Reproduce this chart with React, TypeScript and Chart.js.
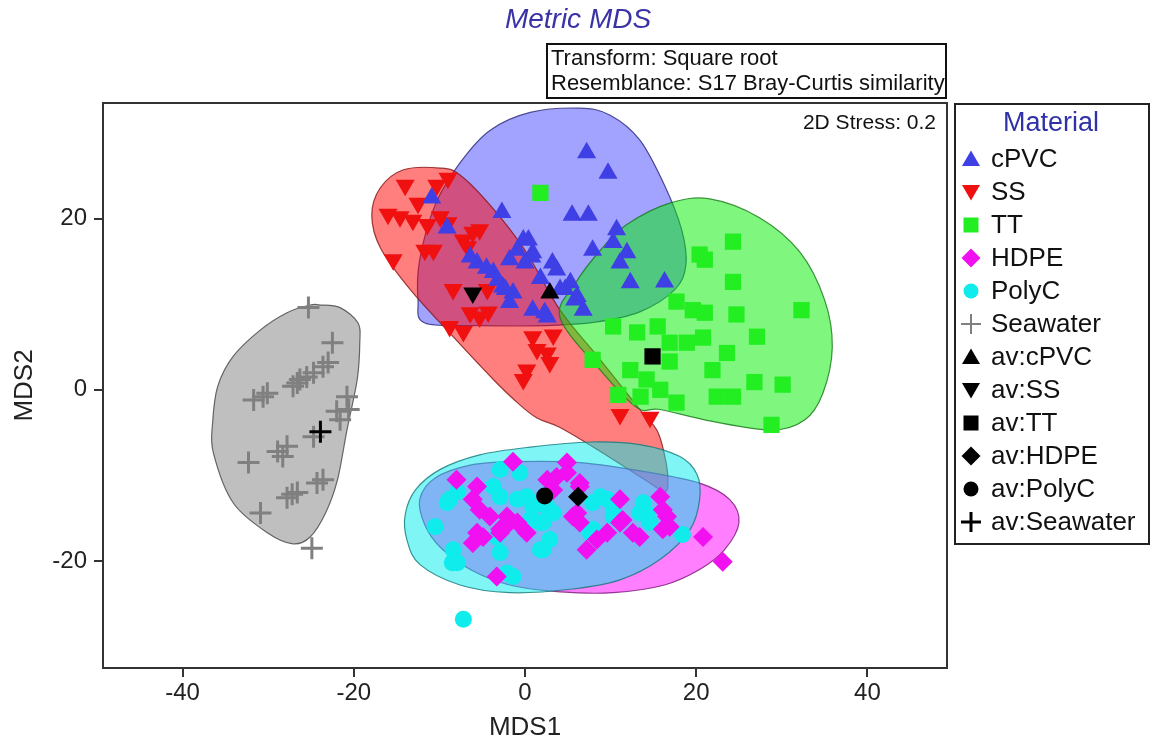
import React, { useEffect, useRef } from "react";
import { Chart, registerables } from "chart.js";

Chart.register(...registerables);

const FONT = "'Liberation Sans', Arial, Helvetica, sans-serif";

// ---- axis setup ----
const xTicks = [-40, -20, 0, 20, 40];
const yTicks = [-20, 0, 20];
const xRange = [-49.3, 49.3];
const yRange = [-32.5, 33.5];

// ---- sample points (MDS1, MDS2) ----
const cPVC: number[][] = [
  [7.2, 27.7], [9.7, 25.3], [-2.7, 20.7], [5.5, 20.4], [7.4, 20.4], [10.7, 18.7],
  [10.3, 17.2], [7.9, 16.3], [11.9, 16.0], [11.1, 14.8], [-0.2, 17.5], [-0.9, 16.3],
  [0.9, 16.0], [-1.8, 15.2], [-5.6, 14.8], [-6.4, 15.5], [-3.7, 13.7], [-2.6, 12.0],
  [-1.4, 11.3], [-1.8, 10.2], [3.7, 14.0], [5.3, 12.5], [4.1, 11.7], [6.1, 10.9],
  [6.8, 9.3], [0.9, 9.3], [2.6, 8.5], [12.3, 12.5], [16.3, 12.6], [-10.9, 22.4],
  [-9.1, 18.9], [-4.5, 14.2], [1.8, 13.0], [0.4, 17.5], [0.8, 15.5], [0.0, 14.8],
  [-3.2, 12.8], [-2.3, 11.7], [2.3, 9.0], [3.2, 14.8], [4.7, 11.7], [5.8, 10.5],
];
const SS: number[][] = [
  [-14.0, 23.9], [-10.3, 23.9], [-9.0, 24.7], [-14.6, 20.2], [-13.1, 19.8], [-11.4, 19.3],
  [-9.9, 20.2], [-11.7, 16.3], [-10.7, 16.3], [-15.4, 15.2], [-7.2, 17.5], [-6.1, 18.4],
  [-5.3, 18.7], [-8.4, 11.7], [-4.4, 11.7], [-6.4, 9.0], [-5.3, 8.5], [-8.8, 7.4],
  [-7.2, 6.8], [0.9, 6.2], [3.3, 6.4], [1.4, 4.7], [2.6, 4.3], [2.9, 3.2], [0.2, 2.3],
  [-0.2, 1.2], [11.1, -2.9], [14.6, -3.2], [-12.5, 21.8], [-16.0, 20.5], [-9.0, 19.5],
  [-6.7, 16.7], [-4.3, 9.1],
];
const TT: number[][] = [
  [1.8, 23.0], [24.3, 17.3], [21.0, 15.2], [20.4, 15.8], [24.3, 12.6], [32.3, 9.3],
  [17.7, 10.3], [19.6, 9.3], [21.0, 9.0], [24.7, 8.8], [10.3, 7.4], [13.1, 6.7],
  [15.5, 7.4], [16.9, 5.5], [18.9, 5.5], [20.8, 6.1], [23.6, 4.3], [27.1, 6.2],
  [21.9, 2.3], [12.3, 2.3], [7.9, 3.5], [16.9, 3.3], [14.2, 1.2], [15.8, 0.0],
  [17.7, -1.5], [22.4, -0.8], [24.3, -0.8], [26.8, 0.9], [30.1, 0.6], [28.8, -4.1],
  [10.9, -0.6], [13.5, -0.8],
];
const HDPE: number[][] = [
  [-1.4, -8.4], [4.9, -8.5], [4.9, -9.7], [3.7, -10.2], [6.4, -10.9], [-5.6, -11.3],
  [-6.1, -12.8], [-5.3, -14.0], [-4.1, -14.8], [-2.1, -14.8], [-0.9, -15.5], [-5.6, -16.7],
  [-2.9, -16.7], [-6.1, -17.9], [6.1, -14.4], [6.4, -15.5], [7.2, -18.7], [8.4, -17.5],
  [9.6, -16.7], [11.1, -12.8], [11.4, -15.2], [12.6, -16.7], [15.8, -12.5], [16.6, -14.8],
  [16.1, -16.3], [20.8, -17.2], [23.1, -20.1], [-3.3, -21.8], [3.3, -11.7], [-8.0, -10.5],
  [6.4, -11.3], [-4.9, -17.2], [-2.9, -16.3], [-1.8, -15.5], [0.2, -16.7], [5.6, -14.8],
  [11.1, -15.5], [13.4, -17.2], [16.1, -14.0], [16.9, -16.0], [2.6, -10.5],
];
const PolyC: number[][] = [
  [-9.1, -13.2], [-7.9, -11.9], [-3.7, -11.3], [-0.6, -9.7], [0.2, -12.5], [3.3, -14.4],
  [1.8, -15.5], [0.6, -15.2], [2.6, -13.7], [7.9, -13.2], [9.6, -12.8], [10.3, -14.0],
  [7.6, -16.7], [13.8, -13.2], [14.2, -14.4], [18.4, -16.9], [-8.4, -18.7], [-8.5, -20.2],
  [-2.9, -19.0], [-1.4, -21.8], [2.1, -18.7], [-7.2, -26.8], [-3.3, -17.2], [-10.5, -16.0],
  [-8.8, -12.8], [-7.9, -20.2], [-2.9, -12.5], [-0.9, -12.8], [0.9, -13.7], [2.1, -15.5],
  [1.8, -18.7], [2.9, -17.5], [-2.9, -9.3], [8.8, -12.5], [7.9, -16.3], [10.3, -14.8],
  [13.4, -14.4], [14.6, -15.5], [-2.1, -21.4],
];
const Seawater: number[][] = [
  [-25.3, 9.6], [-22.5, 5.5], [-23.6, 2.7], [-23.0, 3.2], [-24.7, 2.0], [-26.3, 1.2],
  [-27.1, 0.4], [-26.6, 0.8], [-30.6, -0.8], [-31.7, -1.2], [-30.1, -0.4], [-20.8, -0.8],
  [-20.6, -2.3], [-21.6, -3.5], [-24.7, -5.5], [-27.8, -6.6], [-28.9, -7.2], [-28.3, -7.8],
  [-32.3, -8.5], [-23.6, -10.5], [-24.3, -10.9], [-26.6, -12.0], [-27.8, -12.6],
  [-27.2, -12.2], [-30.9, -14.4], [-24.9, -18.5], [-22.0, -2.5], [-25.5, 1.5],
];

// ---- group averages ----
const avCPVC = [[2.9, 11.3]];
const avSS = [[-6.1, 11.3]];
const avTT = [[14.9, 3.9]];
const avHDPE = [[6.2, -12.5]];
const avPolyC = [[2.3, -12.4]];
const avSeawater = [[-23.9, -4.9]];

// ---- cluster outlines (smoothed hull vertices) ----
const hullCPVC = [
  [-7.6, 26.5], [-4.1, 30.3], [0.6, 32.4], [6.4, 32.9], [9.9, 32.1], [13.4, 29.2],
  [16.3, 23.9], [18.3, 18.7], [18.8, 14.6], [17.5, 11.7], [13.4, 9.1], [8.2, 7.9],
  [2.6, 7.5], [-5.3, 7.5], [-11.7, 7.8], [-12.5, 10.5], [-12.3, 15.2], [-10.5, 21.6],
];
const hullSS = [
  [-14.2, 25.7], [-9.9, 25.9], [-7.6, 25.1], [-4.1, 21.6], [0.0, 16.3], [4.1, 9.3],
  [8.8, 3.5], [13.4, -2.3], [15.4, -4.7], [16.3, -7.6], [16.7, -10.5], [16.3, -11.9],
  [14.0, -10.5], [8.8, -7.2], [4.1, -4.4], [1.4, -3.3], [-0.9, -1.5], [-3.7, 1.2],
  [-8.4, 6.2], [-13.4, 11.7], [-16.9, 16.6], [-17.9, 20.4], [-16.9, 23.6],
];
const hullTT = [
  [11.9, 19.3], [16.9, 21.8], [21.6, 22.3], [27.4, 20.1], [32.1, 16.1], [35.0, 10.5],
  [35.9, 5.0], [34.8, -0.4], [32.7, -3.5], [28.9, -4.7], [21.9, -3.7], [15.8, -2.3],
  [13.1, -2.1], [8.8, 2.3], [4.1, 8.4], [5.8, 12.3], [8.8, 16.3],
];
const hullHDPE = [
  [-12.3, -12.8], [-10.5, -10.3], [-6.4, -8.8], [-1.4, -8.4], [6.4, -8.5], [14.2, -9.6],
  [20.4, -10.9], [23.9, -12.8], [25.0, -15.5], [23.3, -18.7], [20.4, -21.0], [16.3, -22.8],
  [10.3, -23.7], [4.1, -23.6], [-1.8, -22.8], [-6.4, -21.0], [-9.9, -18.4], [-11.7, -15.8],
];
const hullPolyC = [
  [-14.0, -14.6], [-12.8, -11.7], [-9.9, -9.3], [-5.3, -7.6], [0.6, -6.7], [7.6, -6.1],
  [13.4, -6.4], [18.1, -7.8], [20.1, -9.9], [20.4, -12.8], [19.3, -16.3], [15.8, -19.8],
  [11.1, -22.2], [5.3, -23.3], [-1.8, -23.7], [-7.6, -22.8], [-12.3, -20.4], [-13.8, -17.5],
];
const hullSeawater = [
  [-23.9, 9.9], [-21.6, 9.6], [-19.5, 7.8], [-19.3, 5.5], [-19.6, 1.2], [-20.8, -4.7],
  [-21.9, -10.5], [-23.3, -14.4], [-25.1, -17.2], [-27.1, -18.0], [-30.1, -16.7],
  [-34.1, -13.2], [-36.4, -7.4], [-36.5, -3.9], [-35.9, 0.4], [-34.1, 3.9], [-30.9, 7.0],
  [-27.8, 9.0], [-25.1, 9.9],
];

const legendLabels = [
  "cPVC", "SS", "TT", "HDPE", "PolyC", "Seawater",
  "av:cPVC", "av:SS", "av:TT", "av:HDPE", "av:PolyC", "av:Seawater",
];

// ---- styles ----
const COL = {
  cPVC: "#3f3fe6",
  SS: "#f01010",
  TT: "#22ee22",
  HDPE: "#f010f0",
  PolyC: "#10ecec",
  Seawater: "#808080",
};

const hullStyles = [
  { pts: hullCPVC, fill: "rgba(60,60,255,0.48)", stroke: "rgba(40,40,120,0.8)" },
  { pts: hullSS, fill: "rgba(255,0,0,0.5)", stroke: "rgba(130,20,20,0.8)" },
  { pts: hullTT, fill: "rgba(0,240,0,0.5)", stroke: "rgba(20,120,20,0.8)" },
  { pts: hullHDPE, fill: "rgba(255,0,255,0.5)", stroke: "rgba(120,20,120,0.8)" },
  { pts: hullPolyC, fill: "rgba(0,235,235,0.5)", stroke: "rgba(20,120,120,0.8)" },
  { pts: hullSeawater, fill: "rgba(128,128,128,0.5)", stroke: "rgba(70,70,70,0.8)" },
];

function closedSpline(ctx: CanvasRenderingContext2D, pts: number[][]) {
  const n = pts.length;
  ctx.moveTo(pts[0][0], pts[0][1]);
  const t = 1 / 6;
  for (let i = 0; i < n; i++) {
    const p0 = pts[(i - 1 + n) % n];
    const p1 = pts[i];
    const p2 = pts[(i + 1) % n];
    const p3 = pts[(i + 2) % n];
    ctx.bezierCurveTo(
      p1[0] + (p2[0] - p0[0]) * t,
      p1[1] + (p2[1] - p0[1]) * t,
      p2[0] - (p3[0] - p1[0]) * t,
      p2[1] - (p3[1] - p1[1]) * t,
      p2[0],
      p2[1]
    );
  }
  ctx.closePath();
}

function drawMarker(
  ctx: CanvasRenderingContext2D,
  kind: string,
  x: number,
  y: number,
  color: string
) {
  ctx.save();
  ctx.fillStyle = color;
  ctx.strokeStyle = color;
  ctx.beginPath();
  if (kind === "tri") {
    ctx.moveTo(x, y - 8.5);
    ctx.lineTo(x + 9, y + 7);
    ctx.lineTo(x - 9, y + 7);
    ctx.closePath();
    ctx.fill();
  } else if (kind === "trid") {
    ctx.moveTo(x, y + 8.5);
    ctx.lineTo(x + 9, y - 7);
    ctx.lineTo(x - 9, y - 7);
    ctx.closePath();
    ctx.fill();
  } else if (kind === "sq") {
    ctx.rect(x - 7.5, y - 7.5, 15, 15);
    ctx.fill();
  } else if (kind === "dia") {
    ctx.moveTo(x, y - 9.5);
    ctx.lineTo(x + 9.5, y);
    ctx.lineTo(x, y + 9.5);
    ctx.lineTo(x - 9.5, y);
    ctx.closePath();
    ctx.fill();
  } else if (kind === "circ") {
    ctx.arc(x, y, 7.5, 0, Math.PI * 2);
    ctx.fill();
  } else if (kind === "plus") {
    ctx.lineWidth = 2;
    ctx.moveTo(x - 10, y);
    ctx.lineTo(x + 10, y);
    ctx.moveTo(x, y - 10);
    ctx.lineTo(x, y + 10);
    ctx.stroke();
  } else if (kind === "plusb") {
    ctx.lineWidth = 3;
    ctx.moveTo(x - 10, y);
    ctx.lineTo(x + 10, y);
    ctx.moveTo(x, y - 10);
    ctx.lineTo(x, y + 10);
    ctx.stroke();
  }
  ctx.restore();
}

const legendMarkers = [
  ["tri", COL.cPVC], ["trid", COL.SS], ["sq", COL.TT], ["dia", COL.HDPE], ["circ", COL.PolyC],
  ["plus", COL.Seawater], ["tri", "#000"], ["trid", "#000"], ["sq", "#000"], ["dia", "#000"],
  ["circ", "#000"], ["plusb", "#000"],
];

const hullPlugin = {
  id: "hulls",
  beforeDatasetsDraw(chart: any) {
    const { ctx, chartArea, scales } = chart;
    ctx.save();
    ctx.beginPath();
    ctx.rect(chartArea.left, chartArea.top, chartArea.right - chartArea.left, chartArea.bottom - chartArea.top);
    ctx.clip();
    for (const h of hullStyles) {
      const px = h.pts.map((p) => [scales.x.getPixelForValue(p[0]), scales.y.getPixelForValue(p[1])]);
      ctx.beginPath();
      closedSpline(ctx, px);
      ctx.fillStyle = h.fill;
      ctx.fill();
      ctx.lineWidth = 1.2;
      ctx.strokeStyle = h.stroke;
      ctx.stroke();
    }
    ctx.restore();
  },
};

const decorPlugin = {
  id: "decor",
  afterDraw(chart: any) {
    const { ctx, chartArea } = chart;
    ctx.save();
    // frame
    ctx.strokeStyle = "#333";
    ctx.lineWidth = 2;
    ctx.strokeRect(chartArea.left, chartArea.top, chartArea.right - chartArea.left, chartArea.bottom - chartArea.top);

    // title
    ctx.fillStyle = "#3a33a6";
    ctx.font = `italic 28px ${FONT}`;
    ctx.textAlign = "center";
    ctx.textBaseline = "middle";
    ctx.fillText("Metric MDS", 578, 20);

    // info box
    ctx.strokeStyle = "#111";
    ctx.lineWidth = 2;
    ctx.strokeRect(547, 44, 399, 54);
    ctx.fillStyle = "#111";
    ctx.font = `22px ${FONT}`;
    ctx.textAlign = "left";
    ctx.fillText("Transform: Square root", 551, 59);
    ctx.fillText("Resemblance: S17 Bray-Curtis similarity", 551, 84);

    // stress
    ctx.font = `21px ${FONT}`;
    ctx.textAlign = "right";
    ctx.fillText("2D Stress: 0.2", 936, 123);

    // legend
    ctx.strokeStyle = "#222";
    ctx.lineWidth = 2;
    ctx.strokeRect(955, 104, 194, 440);
    ctx.fillStyle = "#3030a8";
    ctx.font = `27px ${FONT}`;
    ctx.textAlign = "center";
    ctx.fillText("Material", 1051, 124);
    ctx.font = `26px ${FONT}`;
    ctx.textAlign = "left";
    for (let i = 0; i < legendLabels.length; i++) {
      const y = 159 + 33 * i;
      const [kind, color] = legendMarkers[i];
      drawMarker(ctx, kind, 971, y, color);
      ctx.fillStyle = "#111";
      ctx.fillText(legendLabels[i], 991, y + 1);
    }
    ctx.restore();
  },
};

const toXY = (arr: number[][]) => arr.map(([x, y]) => ({ x, y }));

function makeDatasets() {
  const base = (label: string, data: number[][], style: string, color: string, r: number, rot = 0, order = 1) => ({
    label,
    data: toXY(data),
    pointStyle: style,
    pointRotation: rot,
    pointRadius: r,
    pointHoverRadius: r,
    backgroundColor: color,
    borderColor: color,
    borderWidth: style === "cross" ? 3 : 0,
    showLine: false,
    order,
  });
  return [
    base("av:cPVC", avCPVC, "triangle", "#000", 11, 0, 0),
    base("av:SS", avSS, "triangle", "#000", 11, 180, 0),
    base("av:TT", avTT, "rect", "#000", 11.5, 0, 0),
    base("av:HDPE", avHDPE, "rectRot", "#000", 10, 0, 0),
    base("av:PolyC", avPolyC, "circle", "#000", 8.5, 0, 0),
    base("av:Seawater", avSeawater, "cross", "#000", 11, 0, 0),
    base("cPVC", cPVC, "triangle", COL.cPVC, 11),
    base("SS", SS, "triangle", COL.SS, 11, 180),
    base("TT", TT, "rect", COL.TT, 11.5),
    base("HDPE", HDPE, "rectRot", COL.HDPE, 10),
    base("PolyC", PolyC, "circle", COL.PolyC, 8.5),
    base("Seawater", Seawater, "cross", COL.Seawater, 11),
  ];
}

export default function App() {
  const ref = useRef<HTMLCanvasElement | null>(null);
  useEffect(() => {
    if (!ref.current) return;
    const tickFont = { family: FONT, size: 24 };
    const chart = new Chart(ref.current, {
      type: "scatter",
      data: { datasets: makeDatasets() as any },
      options: {
        responsive: false,
        animation: false,
        events: [],
        layout: { padding: { left: 0, top: 103, right: 208, bottom: 0 } },
        plugins: { legend: { display: false }, tooltip: { enabled: false }, title: { display: false } },
        scales: {
          x: {
            type: "linear",
            min: xRange[0],
            max: xRange[1],
            afterFit: (s: any) => { s.height = 76; },
            afterBuildTicks: (s: any) => { s.ticks = xTicks.map((v) => ({ value: v })); },
            border: { display: true, color: "#333", width: 2 },
            grid: { drawOnChartArea: false, drawTicks: true, tickLength: 9, color: "#333", lineWidth: 2 },
            ticks: { font: tickFont, color: "#222", padding: 2, maxRotation: 0 },
            title: { display: true, text: "MDS1", font: { family: FONT, size: 26 }, color: "#222", padding: { top: 0, bottom: 1 } },
          },
          y: {
            type: "linear",
            min: yRange[0],
            max: yRange[1],
            afterFit: (s: any) => { s.width = 103; },
            afterBuildTicks: (s: any) => { s.ticks = yTicks.map((v) => ({ value: v })); },
            border: { display: true, color: "#333", width: 2 },
            grid: { drawOnChartArea: false, drawTicks: true, tickLength: 9, color: "#333", lineWidth: 2 },
            ticks: { font: tickFont, color: "#222", padding: 7 },
            title: { display: true, text: "MDS2", font: { family: FONT, size: 26 }, color: "#222", padding: { top: 9, bottom: 0 } },
          },
        },
      },
      plugins: [hullPlugin, decorPlugin],
    });
    return () => chart.destroy();
  }, []);
  return (
    <div style={{ position: "fixed", left: 0, top: 0, width: 1155, height: 744, background: "#fff" }}>
      <canvas ref={ref} width={1155} height={744} style={{ display: "block" }} />
    </div>
  );
}
